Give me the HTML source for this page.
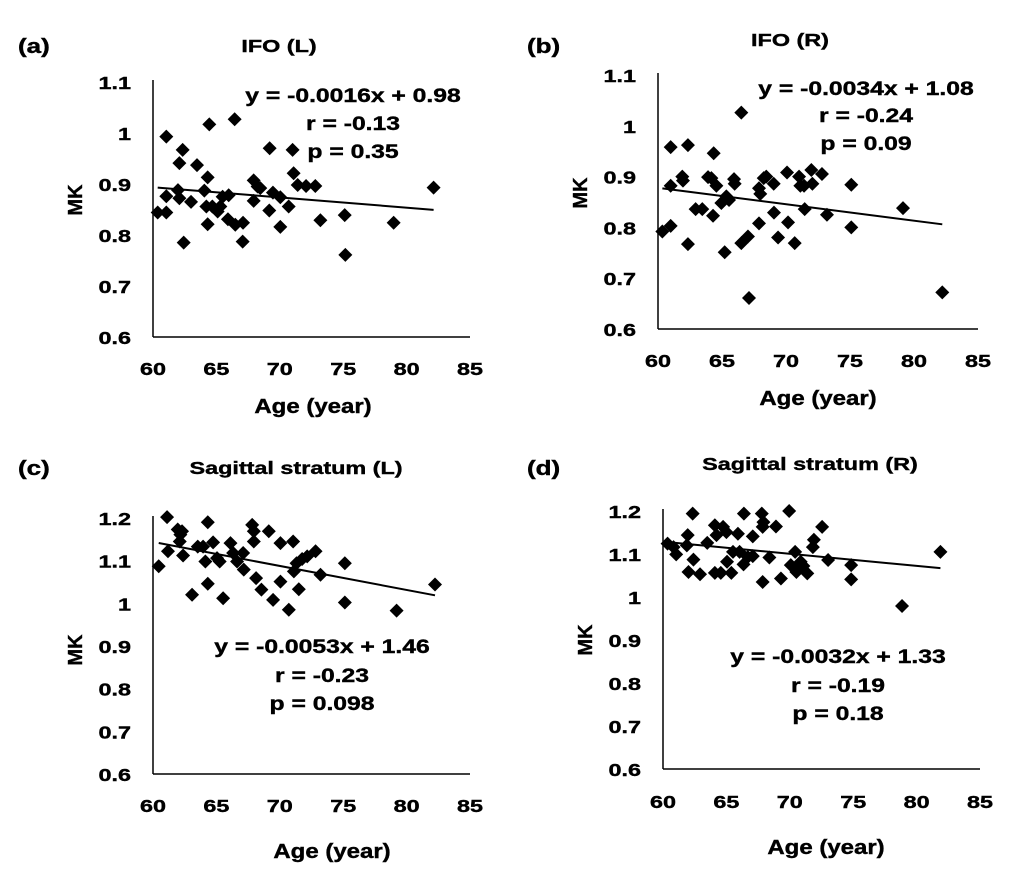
<!DOCTYPE html>
<html><head><meta charset="utf-8"><style>
body{margin:0;background:#fff;}
svg{display:block;font-family:"Liberation Sans",Arial,sans-serif;font-weight:bold;}
svg text{stroke:#000;stroke-width:0.4px;}
</style></head><body>
<svg id="fig" width="1017" height="878" viewBox="0 0 1017 878" xmlns="http://www.w3.org/2000/svg"></svg>
<script>
const yTicksTop = ["0.6","0.7","0.8","0.9","1","1.1"];
const yTicksBottom = ["0.6","0.7","0.8","0.9","1","1.1","1.2"];
const xTicks = ["60","65","70","75","80","85"];
const ageA = [60.37,61.05,61.05,61.05,61.97,62.08,62.08,62.34,62.42,63.00,63.47,64.05,64.21,64.31,64.31,64.44,64.68,65.10,65.31,65.49,65.97,65.91,66.44,66.49,67.10,67.07,67.94,67.94,68.25,68.46,69.20,69.17,69.46,70.04,70.04,70.70,71.01,71.09,71.41,72.07,72.80,73.20,75.12,75.17,78.98,82.13];
const mkA = [0.844,0.844,0.993,0.876,0.888,0.872,0.941,0.967,0.785,0.865,0.937,0.887,0.856,0.913,0.821,1.017,0.856,0.846,0.856,0.875,0.878,0.831,1.027,0.820,0.824,0.787,0.907,0.867,0.895,0.892,0.970,0.848,0.883,0.874,0.816,0.856,0.967,0.921,0.898,0.896,0.896,0.829,0.839,0.761,0.824,0.893];
const ageB = [60.34,60.99,60.99,60.99,61.90,61.95,62.34,62.34,62.94,63.46,63.91,64.17,64.35,64.30,64.56,64.95,65.21,65.34,65.55,65.94,65.99,66.51,66.51,67.11,67.03,67.89,67.89,67.99,68.26,68.46,69.04,69.06,69.38,70.08,70.16,70.68,71.02,71.12,71.46,71.41,71.98,72.06,72.81,73.20,75.10,75.10,79.14,82.21];
const mkB = [0.792,0.803,0.958,0.882,0.900,0.892,0.962,0.767,0.836,0.836,0.899,0.897,0.946,0.823,0.882,0.848,0.751,0.861,0.854,0.895,0.886,1.026,0.769,0.661,0.782,0.808,0.877,0.866,0.897,0.900,0.886,0.829,0.780,0.908,0.810,0.769,0.900,0.882,0.836,0.882,0.913,0.886,0.905,0.825,0.884,0.800,0.838,0.672];
const ageC = [60.45,61.11,61.18,61.95,62.16,62.11,62.37,62.29,63.08,63.53,63.95,64.13,64.32,64.32,64.74,65.05,65.26,65.53,66.11,66.32,66.63,67.11,67.16,67.82,67.95,67.95,68.13,68.55,69.13,69.47,70.05,70.05,70.71,71.05,71.11,71.32,71.50,71.76,72.16,72.82,73.21,75.13,75.13,79.21,82.24];
const mkC = [1.087,1.202,1.122,1.173,1.161,1.145,1.112,1.169,1.020,1.133,1.133,1.098,1.190,1.046,1.143,1.106,1.098,1.012,1.141,1.118,1.098,1.118,1.079,1.184,1.169,1.145,1.059,1.032,1.169,1.008,1.141,1.051,0.985,1.145,1.075,1.094,1.033,1.104,1.110,1.122,1.067,1.094,1.002,0.983,1.044];
const ageD = [60.36,61.04,60.83,61.88,61.95,62.34,62.40,62.01,62.92,63.49,64.09,64.09,64.22,64.56,64.74,65.00,65.05,65.39,65.52,65.91,66.04,66.35,66.38,66.69,67.08,67.08,67.79,67.86,67.92,67.86,68.39,68.91,69.30,69.95,70.08,70.42,70.52,70.86,71.07,71.38,71.82,71.90,72.55,73.02,74.84,74.84,78.85,81.88];
const mkD = [1.124,1.099,1.116,1.120,1.144,1.194,1.087,1.058,1.053,1.126,1.056,1.167,1.144,1.056,1.163,1.151,1.082,1.056,1.105,1.147,1.105,1.076,1.194,1.093,1.141,1.095,1.194,1.163,1.174,1.035,1.092,1.164,1.043,1.200,1.074,1.105,1.058,1.082,1.072,1.055,1.116,1.133,1.163,1.086,1.074,1.041,0.979,1.105];
const titles = ["IFO (L)","IFO (R)","Sagittal stratum (L)","Sagittal stratum (R)"];
const letters = ["(a)","(b)","(c)","(d)"];
const eqs = [["y = -0.0016x + 0.98","r = -0.13","p = 0.35"],["y = -0.0034x + 1.08","r = -0.24","p = 0.09"],["y = -0.0053x + 1.46","r = -0.23","p = 0.098"],["y = -0.0032x + 1.33","r = -0.19","p = 0.18"]];

const NS="http://www.w3.org/2000/svg";
const svg=document.getElementById('fig');
function mk(tag,attrs,parent,text){const e=document.createElementNS(NS,tag);for(const k in attrs)e.setAttribute(k,attrs[k]);if(text!==undefined)e.textContent=text;(parent||svg).appendChild(e);return e;}
function stxt(parent,x,y,size,anchor,s,k){return mk('text',{x:0,y:0,'font-size':size,'text-anchor':anchor,transform:`translate(${x} ${y}) scale(${k||1.3} 1)`},parent,s);}

const panels=[
 {x:ageA,y:mkA,ticks:yTicksTop,ymin:0.6,ymax:1.1,x0:153,x1:470,yb:337,yt:82,letter:[18,53],title:[279,52],mk:[82,200],age:[313,413],tickX:375,eq:[353,[102,130,158]],name:'panel-a'},
 {x:ageB,y:mkB,ticks:yTicksTop,ymin:0.6,ymax:1.1,x0:658,x1:978,yb:329,yt:75,letter:[527,53],title:[790,46],mk:[587,193],age:[818,405],tickX:367,eq:[866,[95,122,150]],name:'panel-b'},
 {x:ageC,y:mkC,ticks:yTicksBottom,ymin:0.6,ymax:1.2,x0:153,x1:470,yb:774,yt:518,letter:[18,475],title:[296,474],mk:[82,650],age:[332,858],tickX:812,eq:[322,[653,682,710]],name:'panel-c'},
 {x:ageD,y:mkD,ticks:yTicksBottom,ymin:0.6,ymax:1.2,x0:663,x1:980,yb:769,yt:511,letter:[527,475],title:[810,470],mk:[592,640],age:[826,854],tickX:808,eq:[838,[663,692,720]],name:'panel-d'}
];

panels.forEach((p,pi)=>{
 const g=mk('g',{});
 
 
 const sx=v=>p.x0+(v-60)/25*(p.x1-p.x0);
 const sy=v=>p.yb-(v-p.ymin)/(p.ymax-p.ymin)*(p.yb-p.yt);
 const lt=stxt(g,p.letter[0],p.letter[1],20,'start',letters[pi]);
 
 
 const tt=stxt(g,p.title[0],p.title[1],18,'middle',titles[pi]);
 
 
 const ya=mk('line',{x1:p.x0,y1:p.yt-2,x2:p.x0,y2:p.yb,stroke:'#000','stroke-width':1.5},g);
 
 
 const xa=mk('line',{x1:p.x0,y1:p.yb,x2:p.x1,y2:p.yb,stroke:'#000','stroke-width':1.5},g);
 
 
 p.ticks.forEach(t=>{
  const e=stxt(g,p.x0-22,sy(parseFloat(t))+7,18,'end',t);
  
  
 });
 xTicks.forEach(t=>{
  const e=stxt(g,sx(parseFloat(t)),p.tickX,18,'middle',t);
  
  
 });
 const yt=mk('text',{x:p.mk[0],y:p.mk[1],'font-size':20,'text-anchor':'middle',transform:`rotate(-90 ${p.mk[0]} ${p.mk[1]})`},g,'MK');
 
 
 const xt=stxt(g,p.age[0],p.age[1],20,'middle','Age (year)',1.2);
 
 
 const n=p.x.length;let mx=0,my=0;for(let i=0;i<n;i++){mx+=p.x[i];my+=p.y[i];}mx/=n;my/=n;
 let sxy=0,sxx=0;for(let i=0;i<n;i++){sxy+=(p.x[i]-mx)*(p.y[i]-my);sxx+=(p.x[i]-mx)**2;}
 const b=sxy/sxx,a=my-b*mx;const xmin=Math.min(...p.x),xmax=Math.max(...p.x);
 p.x.forEach((v,i)=>{
  const cx=sx(v),cy=sy(p.y[i]);
  const d=mk('path',{d:`M${cx} ${cy-7}L${cx+7} ${cy}L${cx} ${cy+7}L${cx-7} ${cy}Z`,fill:'#000'},g);
  
  
 });
 const tl=mk('line',{x1:sx(xmin),y1:sy(a+b*xmin),x2:sx(xmax),y2:sy(a+b*xmax),stroke:'#000','stroke-width':2},g);
 
 
 eqs[pi].forEach((s,k)=>{
  const e=stxt(g,p.eq[0],p.eq[1][k],19,'middle',s);
  
  
 });
});
</script>
</body></html>
